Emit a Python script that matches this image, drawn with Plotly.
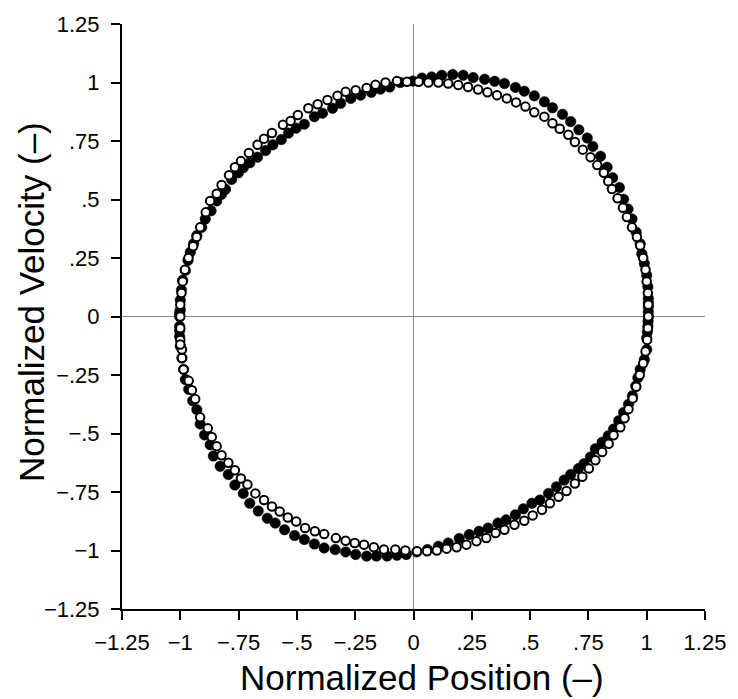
import plotly.graph_objects as go

# Phase-plane trajectory: normalized position vs normalized velocity
# Series A (filled markers), traversed clockwise starting at the left extreme
pos_a = [-1.003, -1.003, -1.000, -1.000, -0.995, -0.990, -0.978, -0.967, -0.957, -0.943,
         -0.929, -0.908, -0.893, -0.868, -0.844, -0.823, -0.806, -0.780, -0.751, -0.730,
         -0.702, -0.669, -0.634, -0.603, -0.567, -0.536, -0.503, -0.468, -0.425, -0.390,
         -0.347, -0.312, -0.269, -0.227, -0.181, -0.142, -0.102, -0.057, -0.003, 0.036,
         0.078, 0.121, 0.168, 0.213, 0.256, 0.305, 0.348, 0.390, 0.437, 0.475,
         0.518, 0.561, 0.596, 0.639, 0.674, 0.709, 0.745, 0.769, 0.802, 0.830,
         0.854, 0.883, 0.901, 0.920, 0.937, 0.955, 0.972, 0.979, 0.990, 1.000,
         1.005, 1.007, 1.007, 1.007, 1.007, 1.007, 1.006, 1.005, 1.003, 1.000,
         1.000, 0.990, 0.972, 0.962, 0.953, 0.939, 0.922, 0.901, 0.880, 0.858,
         0.835, 0.809, 0.780, 0.759, 0.731, 0.707, 0.674, 0.646, 0.613, 0.579,
         0.542, 0.508, 0.471, 0.437, 0.397, 0.362, 0.320, 0.281, 0.239, 0.196,
         0.149, 0.107, 0.060, 0.014, -0.031, -0.071, -0.113, -0.159, -0.201, -0.248,
         -0.291, -0.336, -0.383, -0.425, -0.468, -0.510, -0.553, -0.593, -0.627, -0.666,
         -0.702, -0.730, -0.766, -0.794, -0.829, -0.858, -0.872, -0.896, -0.915, -0.929,
         -0.947, -0.964, -0.978, -0.986, -0.993, -1.000, -1.003, -1.003, -1.003]
vel_a = [0.000, 0.015, 0.028, 0.070, 0.113, 0.155, 0.197, 0.240, 0.275, 0.311,
         0.346, 0.381, 0.417, 0.452, 0.494, 0.522, 0.544, 0.586, 0.614, 0.636,
         0.657, 0.681, 0.709, 0.734, 0.756, 0.784, 0.805, 0.822, 0.854, 0.869,
         0.890, 0.911, 0.932, 0.946, 0.958, 0.972, 0.981, 1.000, 1.006, 1.019,
         1.024, 1.031, 1.034, 1.031, 1.021, 1.014, 1.005, 0.996, 0.979, 0.963,
         0.943, 0.918, 0.892, 0.864, 0.833, 0.798, 0.763, 0.727, 0.685, 0.638,
         0.593, 0.551, 0.501, 0.459, 0.417, 0.360, 0.311, 0.268, 0.226, 0.176,
         0.127, 0.078, 0.060, 0.042, 0.020, 0.000, -0.020, -0.042, -0.065, -0.092,
         -0.141, -0.184, -0.226, -0.262, -0.297, -0.339, -0.375, -0.410, -0.445, -0.481,
         -0.510, -0.537, -0.565, -0.600, -0.629, -0.650, -0.675, -0.699, -0.728, -0.756,
         -0.784, -0.798, -0.822, -0.847, -0.869, -0.883, -0.904, -0.918, -0.932, -0.949,
         -0.968, -0.982, -0.996, -1.006, -1.017, -1.020, -1.024, -1.024, -1.024, -1.017,
         -1.006, -0.996, -0.989, -0.972, -0.953, -0.936, -0.911, -0.883, -0.862, -0.831,
         -0.798, -0.756, -0.720, -0.675, -0.640, -0.596, -0.548, -0.506, -0.459, -0.398,
         -0.360, -0.311, -0.269, -0.226, -0.177, -0.127, -0.085, -0.060, -0.042]

# Series B (open markers)
pos_b = [-1.000, -1.000, -1.000, -1.000, -0.995, -0.990, -0.980, -0.965, -0.945, -0.930,
         -0.915, -0.891, -0.872, -0.844, -0.823, -0.791, -0.766, -0.740, -0.706, -0.669,
         -0.641, -0.607, -0.560, -0.527, -0.496, -0.451, -0.411, -0.369, -0.326, -0.291,
         -0.248, -0.201, -0.163, -0.120, -0.071, -0.028, 0.022, 0.064, 0.107, 0.149,
         0.192, 0.234, 0.277, 0.317, 0.358, 0.400, 0.440, 0.480, 0.518, 0.561,
         0.596, 0.627, 0.664, 0.692, 0.726, 0.759, 0.788, 0.816, 0.835, 0.851,
         0.875, 0.898, 0.915, 0.937, 0.958, 0.972, 0.985, 0.995, 1.000, 1.005,
         1.007, 1.007, 1.005, 1.002, 0.995, 0.985, 0.970, 0.955, 0.940, 0.922,
         0.905, 0.887, 0.858, 0.837, 0.809, 0.780, 0.752, 0.724, 0.692, 0.656,
         0.622, 0.585, 0.551, 0.511, 0.475, 0.433, 0.390, 0.352, 0.312, 0.270,
         0.227, 0.185, 0.142, 0.100, 0.058, 0.015, -0.035, -0.078, -0.127, -0.170,
         -0.212, -0.252, -0.291, -0.333, -0.383, -0.423, -0.465, -0.503, -0.539, -0.574,
         -0.607, -0.641, -0.678, -0.712, -0.740, -0.766, -0.794, -0.823, -0.844, -0.865,
         -0.882, -0.915, -0.936, -0.950, -0.964, -0.986, -0.993, -0.993, -1.000]
vel_b = [-0.100, -0.050, 0.000, 0.050, 0.100, 0.150, 0.200, 0.250, 0.300, 0.340,
         0.381, 0.445, 0.494, 0.525, 0.562, 0.604, 0.638, 0.664, 0.699, 0.734,
         0.760, 0.784, 0.819, 0.836, 0.861, 0.890, 0.907, 0.925, 0.943, 0.960,
         0.967, 0.977, 0.990, 1.000, 1.006, 1.003, 1.003, 1.000, 1.000, 0.996,
         0.989, 0.981, 0.970, 0.958, 0.946, 0.932, 0.915, 0.897, 0.873, 0.854,
         0.826, 0.802, 0.777, 0.746, 0.713, 0.681, 0.647, 0.614, 0.578, 0.545,
         0.505, 0.465, 0.425, 0.381, 0.340, 0.303, 0.250, 0.200, 0.150, 0.100,
         0.050, 0.000, -0.050, -0.100, -0.150, -0.200, -0.250, -0.300, -0.350, -0.396,
         -0.435, -0.473, -0.508, -0.544, -0.579, -0.614, -0.650, -0.685, -0.714, -0.746,
         -0.770, -0.798, -0.826, -0.850, -0.873, -0.890, -0.911, -0.925, -0.947, -0.961,
         -0.975, -0.986, -0.992, -1.000, -1.003, -1.003, -1.000, -0.996, -0.996, -0.986,
         -0.975, -0.968, -0.958, -0.947, -0.930, -0.918, -0.904, -0.876, -0.859, -0.833,
         -0.812, -0.784, -0.756, -0.718, -0.692, -0.657, -0.625, -0.593, -0.554, -0.515,
         -0.478, -0.431, -0.353, -0.315, -0.275, -0.226, -0.177, -0.141, -0.120]

tick_vals = [-1.25, -1.0, -0.75, -0.5, -0.25, 0.0, 0.25, 0.5, 0.75, 1.0, 1.25]
tick_text = ["\u22121.25", "\u22121", "\u2212.75", "\u2212.5", "\u2212.25", "0",
             ".25", ".5", ".75", "1", "1.25"]

x_title = "Normalized Position (\u2013)"
y_title = "Normalized Velocity (\u2013)"

FONT = "Liberation Sans, Arial, Helvetica, sans-serif"

fig = go.Figure()
fig.add_trace(go.Scatter(
    x=pos_a, y=vel_a, mode="markers",
    marker=dict(size=10.5, color="black", line=dict(color="black", width=0.5)),
    showlegend=False,
))
fig.add_trace(go.Scatter(
    x=pos_b, y=vel_b, mode="markers",
    marker=dict(size=8.5, color="white", line=dict(color="black", width=2)),
    showlegend=False,
))

axis_common = dict(
    range=[-1.25, 1.25],
    tickmode="array",
    tickvals=tick_vals,
    ticktext=tick_text,
    ticks="outside",
    ticklen=9,
    tickwidth=2,
    tickcolor="black",
    showline=True,
    linecolor="black",
    linewidth=2,
    showgrid=False,
    zeroline=True,
    zerolinecolor="#8a8a8a",
    zerolinewidth=1,
    tickfont=dict(family=FONT, size=22, color="black"),
)

fig.update_layout(
    width=738, height=699,
    margin=dict(l=122, r=27, t=17, b=90),
    paper_bgcolor="white",
    plot_bgcolor="white",
    xaxis=dict(**axis_common, ticklabelstandoff=4),
    yaxis=dict(**axis_common, ticklabelstandoff=7),
    annotations=[
        dict(text=x_title, xref="paper", yref="paper", x=0.515, y=-0.081,
             xanchor="center", yanchor="top", showarrow=False,
             font=dict(family=FONT, size=35, color="black")),
        dict(text=y_title, xref="paper", yref="paper", x=-0.155, y=0.524,
             xanchor="center", yanchor="middle", showarrow=False, textangle=-90,
             font=dict(family=FONT, size=35, color="black")),
    ],
)

fig.write_html("out.html")
